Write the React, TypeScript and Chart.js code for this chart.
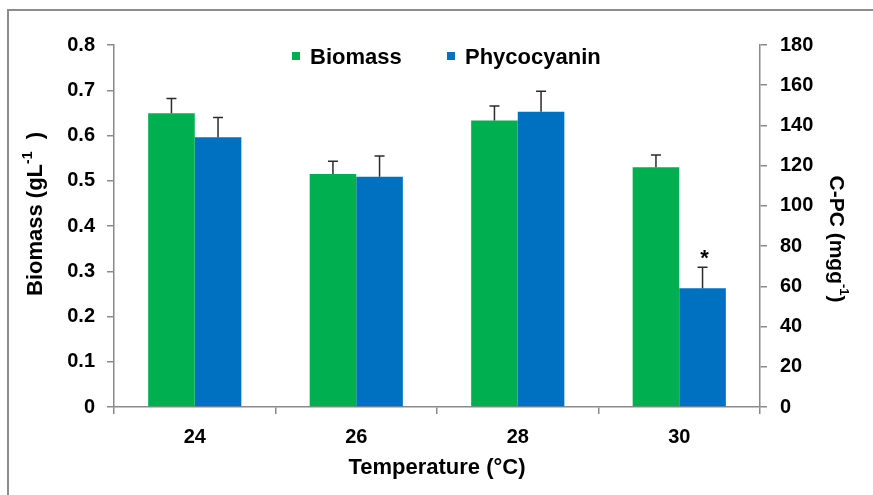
import React, { useEffect, useRef } from "react";
import { Chart, registerables } from "chart.js";

Chart.register(...registerables);

// ---- data ----
const categories = ["24", "26", "28", "30"];
const biomass = [0.649, 0.515, 0.633, 0.53];
const biomassErr = [0.033, 0.028, 0.032, 0.027];
const phycocyanin = [134.1, 114.5, 146.8, 59.0];
const phycocyaninErr = [9.9, 10.3, 10.2, 10.5];
const phycoMarks = ["", "", "", "*"];
const biomassTicks = [0, 0.1, 0.2, 0.3, 0.4, 0.5, 0.6, 0.7, 0.8];
const cpcTicks = [0, 20, 40, 60, 80, 100, 120, 140, 160, 180];

const GREEN = "#00B050";
const BLUE = "#0070C0";
const AXIS = "#8a8a8a";
const FONT = "'Liberation Sans', Arial, sans-serif";

function drawSupText(ctx: CanvasRenderingContext2D, parts: [string, boolean][], size: number) {
  const mainFont = `bold ${size}px ${FONT}`;
  const supFont = `bold ${Math.round(size * 0.62)}px ${FONT}`;
  let total = 0;
  const widths: number[] = [];
  for (const [t, sup] of parts) {
    ctx.font = sup ? supFont : mainFont;
    const w = ctx.measureText(t).width;
    widths.push(w);
    total += w;
  }
  let x = -total / 2;
  ctx.textAlign = "left";
  ctx.textBaseline = "alphabetic";
  parts.forEach(([t, sup], i) => {
    ctx.font = sup ? supFont : mainFont;
    ctx.fillText(t, x, sup ? size * 0.36 - size * 0.45 : size * 0.36);
    x += widths[i];
  });
}

const customPlugin = {
  id: "custom",
  beforeDraw(chart: any) {
    const ctx = chart.ctx as CanvasRenderingContext2D;
    ctx.save();
    ctx.fillStyle = "#ffffff";
    ctx.fillRect(0, 0, chart.width, chart.height);
    ctx.strokeStyle = "#8c8c8c";
    ctx.lineWidth = 2;
    ctx.beginPath();
    ctx.moveTo(8, chart.height + 5);
    ctx.lineTo(8, 10);
    ctx.lineTo(chart.width + 5, 10);
    ctx.stroke();
    ctx.restore();
  },
  afterDatasetsDraw(chart: any) {
    const ctx = chart.ctx as CanvasRenderingContext2D;
    const sets = [
      { idx: 0, vals: biomass, errs: biomassErr, scale: chart.scales.y, marks: null as string[] | null },
      { idx: 1, vals: phycocyanin, errs: phycocyaninErr, scale: chart.scales.y1, marks: phycoMarks },
    ];
    ctx.save();
    ctx.strokeStyle = "#2b2b2b";
    ctx.lineWidth = 1.5;
    for (const s of sets) {
      const meta = chart.getDatasetMeta(s.idx);
      meta.data.forEach((el: any, i: number) => {
        const x = el.x;
        const yTop = s.scale.getPixelForValue(s.vals[i] + s.errs[i]);
        const yBar = el.y;
        ctx.beginPath();
        ctx.moveTo(x, yBar);
        ctx.lineTo(x, yTop);
        ctx.moveTo(x - 5, yTop);
        ctx.lineTo(x + 5, yTop);
        ctx.stroke();
        if (s.marks && s.marks[i]) {
          ctx.fillStyle = "#000";
          ctx.font = `bold 22px ${FONT}`;
          ctx.textAlign = "center";
          ctx.textBaseline = "alphabetic";
          ctx.fillText(s.marks[i], x + 2, yTop - 2);
        }
      });
    }
    ctx.restore();
  },
  afterDraw(chart: any) {
    const ctx = chart.ctx as CanvasRenderingContext2D;
    const area = chart.chartArea;
    ctx.save();
    ctx.fillStyle = "#000";
    // legend
    const items: [string, string, number][] = [
      ["Biomass", GREEN, 292],
      ["Phycocyanin", BLUE, 447],
    ];
    ctx.font = `bold 22px ${FONT}`;
    ctx.textBaseline = "middle";
    ctx.textAlign = "left";
    for (const [label, color, x] of items) {
      ctx.fillStyle = color;
      ctx.fillRect(x, 52, 8, 8);
      ctx.fillStyle = "#000";
      ctx.fillText(label, x + 18, 58);
    }
    // x title
    ctx.save();
    ctx.translate((area.left + area.right) / 2, 466);
    drawSupText(ctx, [["Temperature (°C)", false]], 22);
    ctx.restore();
    // left title
    ctx.save();
    ctx.translate(34, 214);
    ctx.rotate(-Math.PI / 2);
    drawSupText(ctx, [["Biomass (gL", false], ["-1", true], ["  )", false]], 22);
    ctx.restore();
    // right title
    ctx.save();
    ctx.translate(838, 239);
    ctx.rotate(Math.PI / 2);
    drawSupText(ctx, [["C-PC (mgg", false], ["-1", true], [")", false]], 21);
    ctx.restore();
    ctx.restore();
  },
};

export default function App() {
  const ref = useRef<HTMLCanvasElement>(null);
  useEffect(() => {
    if (!ref.current) return;
    const tickFont = { family: FONT, size: 20, weight: "bold" as const };
    const chart = new Chart(ref.current, {
      type: "bar",
      data: {
        labels: categories,
        datasets: [
          {
            label: "Biomass",
            data: biomass,
            backgroundColor: GREEN,
            yAxisID: "y",
            barPercentage: 1,
            categoryPercentage: 0.577,
          },
          {
            label: "Phycocyanin",
            data: phycocyanin,
            backgroundColor: BLUE,
            yAxisID: "y1",
            barPercentage: 1,
            categoryPercentage: 0.577,
          },
        ],
      },
      options: {
        responsive: false,
        animation: false,
        layout: { padding: { top: 45, left: 0, right: 0, bottom: 0 } },
        plugins: { legend: { display: false }, tooltip: { enabled: false } },
        scales: {
          x: {
            offset: true,
            grid: { offset: true, drawOnChartArea: false, drawTicks: true, tickLength: 7, color: AXIS, lineWidth: 1.5 },
            border: { color: AXIS, width: 1.5 },
            ticks: { font: tickFont, color: "#000", padding: 11 },
            afterFit: (s: any) => { s.height = 88; },
          },
          y: {
            position: "left",
            min: 0,
            max: 0.8,
            afterBuildTicks: (s: any) => { s.ticks = biomassTicks.map((v) => ({ value: v })); },
            grid: { drawOnChartArea: false, tickLength: 7, color: AXIS, lineWidth: 1.5 },
            border: { color: AXIS, width: 1.5 },
            ticks: { font: tickFont, color: "#000", padding: 12, callback: (v: any) => String(Math.round(Number(v) * 10) / 10) },
            afterFit: (s: any) => { s.width = 114; },
          },
          y1: {
            position: "right",
            min: 0,
            max: 180,
            afterBuildTicks: (s: any) => { s.ticks = cpcTicks.map((v) => ({ value: v })); },
            grid: { drawOnChartArea: false, tickLength: 7, color: AXIS, lineWidth: 1.5 },
            border: { color: AXIS, width: 1.5 },
            ticks: { font: tickFont, color: "#000", padding: 13 },
            afterFit: (s: any) => { s.width = 113; },
          },
        },
      },
      plugins: [customPlugin],
    });
    return () => chart.destroy();
  }, []);
  return (
    <div style={{ position: "fixed", left: 0, top: 0, width: 873, height: 495 }}>
      <canvas ref={ref} width={873} height={495} style={{ display: "block" }} />
    </div>
  );
}
